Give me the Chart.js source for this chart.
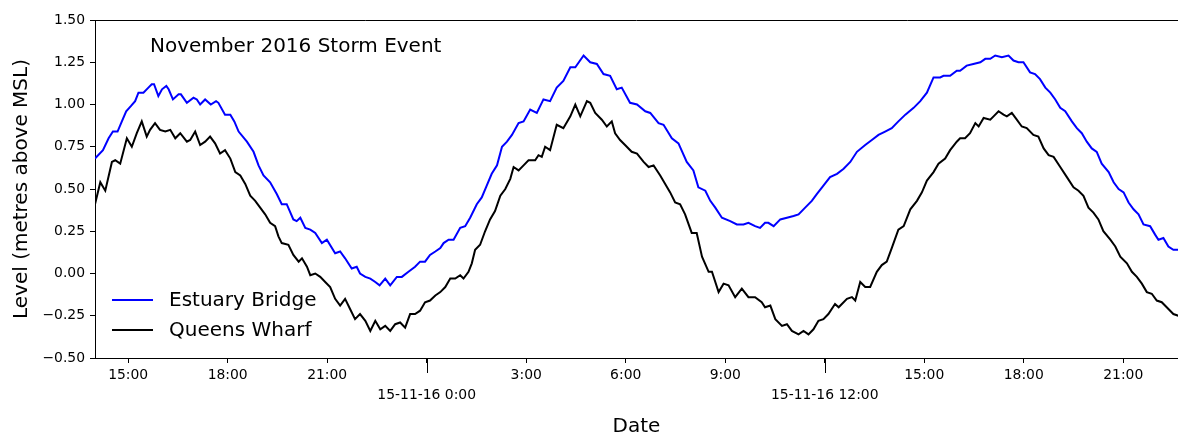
<!DOCTYPE html>
<html><head><meta charset="utf-8">
<script src="https://cdn.jsdelivr.net/npm/chart.js@4.4.1/dist/chart.umd.min.js"></script>
<style>html,body{margin:0;padding:0;background:#fff;overflow:hidden}#wrap{width:1178px;height:433px;position:relative}</style>
</head><body><div id="wrap"><canvas id="c" width="1178" height="433"></canvas></div>
<script>
// Hours counted from 14-11-16 00:00
const seriesNames = ['Estuary Bridge', 'Queens Wharf'];
const titleText = 'November 2016 Storm Event';
const xTickHours = [15, 18, 21, 24, 27, 30, 33, 36, 39, 42, 45];
const dateTickLabels = {24: '15-11-16 0:00', 36: '15-11-16 12:00'};
const yTickValues = [-0.5, -0.25, 0, 0.25, 0.5, 0.75, 1.0, 1.25, 1.5];

const estuaryHours = [14.00,14.24,14.41,14.54,14.68,14.81,14.94,15.08,15.21,15.31,15.46,15.61,15.71,15.78,15.91,16.02,16.15,16.22,16.35,16.52,16.59,16.77,16.97,17.07,17.17,17.32,17.49,17.65,17.72,17.92,18.08,18.20,18.33,18.58,18.78,18.93,19.08,19.28,19.48,19.63,19.78,19.98,20.08,20.19,20.34,20.49,20.64,20.84,20.99,21.24,21.39,21.54,21.74,21.89,21.99,22.15,22.30,22.45,22.58,22.75,22.90,23.10,23.25,23.45,23.65,23.80,23.95,24.10,24.26,24.41,24.51,24.66,24.81,25.01,25.16,25.31,25.51,25.66,25.81,25.96,26.12,26.27,26.42,26.57,26.77,26.92,27.12,27.32,27.52,27.72,27.92,28.12,28.33,28.48,28.73,28.93,29.13,29.33,29.53,29.73,29.88,30.13,30.34,30.59,30.74,30.99,31.14,31.39,31.59,31.84,32.04,32.19,32.40,32.55,32.70,32.90,33.15,33.35,33.55,33.70,33.90,34.05,34.20,34.30,34.46,34.66,34.86,35.06,35.21,35.41,35.61,35.76,35.96,36.16,36.37,36.57,36.77,36.97,37.22,37.42,37.62,37.82,38.02,38.22,38.43,38.68,38.88,39.08,39.28,39.48,39.58,39.78,39.98,40.08,40.28,40.48,40.69,40.84,40.99,41.14,41.34,41.54,41.69,41.84,41.99,42.19,42.34,42.49,42.65,42.80,42.95,43.10,43.25,43.45,43.60,43.75,43.90,44.05,44.20,44.35,44.56,44.71,44.86,45.01,45.16,45.31,45.46,45.61,45.81,45.96,46.06,46.21,46.36,46.51,46.66];
const estuaryLevels = [0.68,0.73,0.80,0.84,0.84,0.90,0.96,0.99,1.02,1.07,1.07,1.10,1.12,1.12,1.05,1.09,1.11,1.09,1.03,1.06,1.06,1.01,1.04,1.03,1.00,1.03,1.00,1.02,1.01,0.94,0.94,0.90,0.84,0.78,0.72,0.64,0.58,0.54,0.47,0.41,0.41,0.32,0.31,0.33,0.27,0.26,0.24,0.18,0.20,0.12,0.13,0.09,0.03,0.04,0.00,-0.02,-0.03,-0.05,-0.07,-0.03,-0.07,-0.02,-0.02,0.01,0.04,0.07,0.07,0.11,0.13,0.15,0.18,0.20,0.20,0.27,0.28,0.33,0.41,0.45,0.52,0.59,0.64,0.75,0.78,0.82,0.89,0.90,0.97,0.95,1.03,1.02,1.10,1.14,1.22,1.22,1.29,1.25,1.24,1.18,1.17,1.09,1.10,1.01,1.00,0.96,0.95,0.89,0.88,0.80,0.77,0.66,0.61,0.51,0.49,0.43,0.39,0.33,0.31,0.29,0.29,0.30,0.28,0.27,0.30,0.30,0.28,0.32,0.33,0.34,0.35,0.39,0.43,0.47,0.52,0.57,0.59,0.62,0.66,0.72,0.76,0.79,0.82,0.84,0.86,0.90,0.94,0.98,1.02,1.07,1.16,1.16,1.17,1.17,1.20,1.20,1.23,1.24,1.25,1.27,1.27,1.29,1.28,1.29,1.26,1.25,1.25,1.19,1.18,1.15,1.10,1.07,1.03,0.98,0.96,0.90,0.86,0.83,0.78,0.74,0.72,0.65,0.60,0.54,0.50,0.48,0.42,0.38,0.35,0.29,0.28,0.23,0.20,0.21,0.16,0.14,0.14];

const queensHours = [14.00,14.16,14.31,14.51,14.61,14.76,14.96,15.11,15.26,15.41,15.56,15.66,15.81,15.96,16.12,16.27,16.42,16.57,16.77,16.87,17.02,17.17,17.32,17.47,17.62,17.77,17.92,18.08,18.23,18.38,18.53,18.68,18.83,18.98,19.13,19.28,19.43,19.53,19.63,19.83,19.98,20.14,20.24,20.39,20.49,20.64,20.79,20.94,21.09,21.24,21.39,21.54,21.69,21.84,21.99,22.15,22.30,22.45,22.60,22.75,22.90,23.05,23.20,23.35,23.50,23.65,23.80,23.95,24.10,24.26,24.41,24.56,24.71,24.86,25.01,25.11,25.26,25.36,25.46,25.61,25.76,25.91,26.06,26.22,26.37,26.52,26.62,26.77,26.92,27.07,27.27,27.37,27.47,27.57,27.72,27.92,28.12,28.33,28.48,28.63,28.83,28.93,29.08,29.28,29.43,29.58,29.68,29.83,29.98,30.18,30.34,30.54,30.69,30.84,31.04,31.19,31.34,31.49,31.64,31.79,31.99,32.14,32.30,32.50,32.60,32.80,32.95,33.10,33.30,33.50,33.70,33.90,34.10,34.20,34.36,34.51,34.71,34.86,35.01,35.21,35.36,35.51,35.66,35.81,35.96,36.11,36.31,36.42,36.67,36.82,36.92,37.07,37.22,37.37,37.57,37.72,37.87,38.02,38.22,38.38,38.58,38.78,38.93,39.08,39.28,39.43,39.63,39.78,39.98,40.08,40.23,40.38,40.54,40.64,40.79,40.99,41.09,41.24,41.39,41.49,41.64,41.79,41.94,42.09,42.29,42.44,42.60,42.75,42.90,43.10,43.30,43.50,43.65,43.80,43.95,44.10,44.25,44.40,44.61,44.76,44.91,45.11,45.26,45.41,45.56,45.71,45.86,46.01,46.16,46.31,46.51,46.66];
const queensLevels = [0.41,0.54,0.49,0.66,0.67,0.65,0.80,0.75,0.83,0.90,0.81,0.85,0.89,0.85,0.84,0.85,0.80,0.83,0.78,0.79,0.84,0.76,0.78,0.81,0.77,0.71,0.73,0.68,0.60,0.58,0.53,0.46,0.43,0.39,0.35,0.30,0.28,0.22,0.18,0.17,0.11,0.07,0.09,0.04,-0.01,0.00,-0.02,-0.05,-0.08,-0.15,-0.19,-0.15,-0.21,-0.27,-0.24,-0.28,-0.34,-0.28,-0.33,-0.31,-0.34,-0.30,-0.29,-0.32,-0.24,-0.24,-0.22,-0.17,-0.16,-0.13,-0.11,-0.08,-0.03,-0.03,-0.01,-0.03,0.01,0.06,0.14,0.17,0.25,0.32,0.37,0.46,0.50,0.56,0.63,0.61,0.64,0.67,0.67,0.70,0.69,0.75,0.73,0.88,0.86,0.93,1.00,0.93,1.02,1.01,0.95,0.91,0.87,0.90,0.83,0.79,0.76,0.72,0.71,0.66,0.63,0.64,0.58,0.53,0.48,0.42,0.41,0.35,0.24,0.24,0.10,0.01,0.01,-0.11,-0.06,-0.07,-0.14,-0.09,-0.14,-0.14,-0.17,-0.20,-0.19,-0.27,-0.31,-0.30,-0.34,-0.36,-0.34,-0.36,-0.33,-0.28,-0.27,-0.24,-0.18,-0.20,-0.15,-0.14,-0.16,-0.05,-0.08,-0.08,0.01,0.05,0.07,0.15,0.26,0.28,0.38,0.43,0.48,0.55,0.60,0.65,0.68,0.73,0.78,0.80,0.80,0.83,0.89,0.87,0.92,0.91,0.93,0.96,0.94,0.93,0.95,0.91,0.87,0.86,0.82,0.81,0.74,0.70,0.69,0.63,0.57,0.51,0.49,0.46,0.39,0.36,0.32,0.25,0.20,0.16,0.10,0.06,0.01,-0.02,-0.06,-0.11,-0.12,-0.16,-0.17,-0.20,-0.24,-0.25];

const FONT = 'DejaVu Sans';
const toPts = (hs, vs) => hs.map((h, i) => ({x: h, y: vs[i]}));

const extras = {
  id: 'extras',
  afterDraw(chart) {
    const {ctx, chartArea: a, scales} = chart;
    ctx.save();
    ctx.strokeStyle = '#000'; ctx.lineWidth = 1;
    ctx.beginPath(); ctx.moveTo(a.left, a.top + 0.5); ctx.lineTo(a.right, a.top + 0.5); ctx.stroke();
    Object.keys(dateTickLabels).forEach(k => {
      const px = Math.round(scales.x.getPixelForValue(+k)) + 0.5;
      ctx.beginPath(); ctx.moveTo(px, a.bottom); ctx.lineTo(px, a.bottom + 15); ctx.stroke();
    });
    ctx.fillStyle = '#000';
    ctx.font = '20px "' + FONT + '"';
    ctx.textAlign = 'left'; ctx.textBaseline = 'middle';
    ctx.fillText(titleText, 150, 47);
    chart.data.datasets.forEach((ds, i) => {
      const y = 300 + i * 30;
      ctx.strokeStyle = ds.borderColor; ctx.lineWidth = 2;
      ctx.beginPath(); ctx.moveTo(112, y); ctx.lineTo(153, y); ctx.stroke();
      ctx.fillStyle = '#000';
      ctx.fillText(ds.label, 169, y + 1);
    });
    ctx.restore();
  }
};

new Chart(document.getElementById('c'), {
  type: 'line',
  data: {
    datasets: [
      {label: seriesNames[0], data: toPts(estuaryHours, estuaryLevels), borderColor: '#0000ff', borderWidth: 2, pointRadius: 0, tension: 0, fill: false},
      {label: seriesNames[1], data: toPts(queensHours, queensLevels), borderColor: '#000000', borderWidth: 2, pointRadius: 0, tension: 0, fill: false}
    ]
  },
  options: {
    responsive: false, animation: false, devicePixelRatio: 1,
    layout: {padding: {top: 20, right: 0, left: 0, bottom: 0}},
    plugins: {legend: {display: false}, tooltip: {enabled: false}},
    scales: {
      x: {
        type: 'linear', min: 14, max: 46.65, position: 'bottom',
        afterBuildTicks: s => { s.ticks = xTickHours.map(v => ({value: v})); },
        afterFit: s => { s.height = 75; },
        grid: {display: true, drawOnChartArea: false, tickLength: 5, color: '#000'},
        border: {display: true, color: '#000', width: 1},
        ticks: {
          autoSkip: false, maxRotation: 0, padding: 2, color: '#000',
          font: {family: FONT, size: 13.9, lineHeight: '20px'},
          callback: v => dateTickLabels[v] ? ['', dateTickLabels[v]] : ((v % 24) + ':00')
        },
        title: {display: true, text: 'Date', color: '#000', font: {family: FONT, size: 20, lineHeight: 1}, padding: {top: 0, bottom: -4}}
      },
      y: {
        min: -0.5, max: 1.5,
        afterBuildTicks: s => { s.ticks = yTickValues.map(v => ({value: v})); },
        afterFit: s => { s.width = 95; },
        grid: {display: true, drawOnChartArea: false, tickLength: 5, color: '#000'},
        border: {display: true, color: '#000', width: 1},
        ticks: {
          padding: 5, color: '#000', font: {family: FONT, size: 13.9},
          callback: v => (v < 0 ? '\u2212' : '') + Math.abs(v).toFixed(2)
        },
        title: {display: true, text: 'Level (metres above MSL)', color: '#000', font: {family: FONT, size: 20, lineHeight: 1}, padding: {top: 12, bottom: 0}}
      }
    }
  },
  plugins: [extras]
});
</script></body></html>
